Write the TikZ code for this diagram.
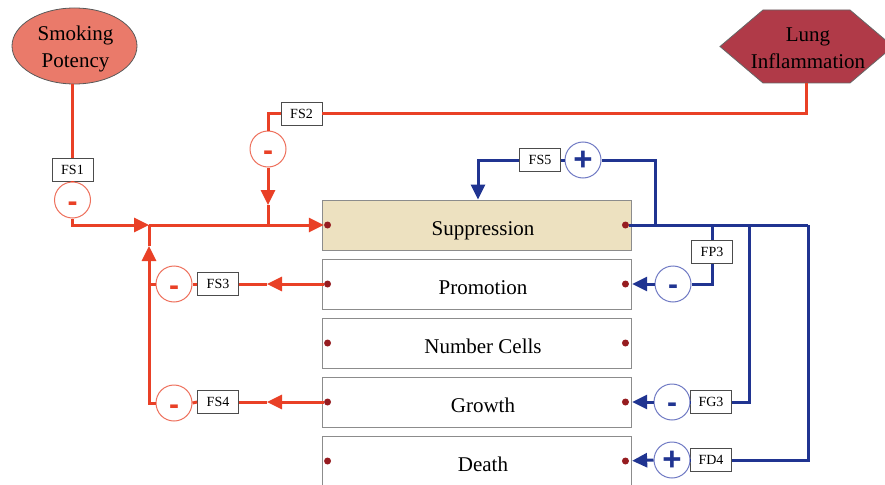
\documentclass[tikz,border=0pt]{standalone}
\usepackage{fontspec}
\setmainfont{Liberation Serif}
\newfontfamily\signfont{Liberation Sans}
\usetikzlibrary{arrows.meta,calc,shapes.geometric}

\definecolor{redline}{RGB}{233,64,38}
\definecolor{redrim}{RGB}{238,112,92}
\definecolor{blueline}{RGB}{32,52,145}
\definecolor{bluerim}{RGB}{112,122,196}
\definecolor{salmon}{RGB}{234,122,106}
\definecolor{crimson}{RGB}{176,58,72}
\definecolor{beige}{RGB}{237,225,192}
\definecolor{boxgray}{RGB}{140,140,140}
\definecolor{dotred}{RGB}{150,28,32}

\tikzset{
  flow/.style={line width=3pt},
  redflow/.style={flow, draw=redline},
  blueflow/.style={flow, draw=blueline},
  tip/.style={-{Triangle[length=15pt,width=14pt]}},
  gain/.style={draw=black!70, fill=white, line width=0.8pt, minimum width=41pt,
    minimum height=23pt, inner sep=0pt, font=\fontsize{14}{16}\selectfont},
  ring/.style={circle, fill=white, line width=1pt, minimum size=36pt, inner sep=0pt,
    text depth=0pt, font=\signfont\bfseries\fontsize{30}{30}\selectfont},
  minus/.style={text height=20.6pt},
  lowminus/.style={text height=23pt},
  plus/.style={text height=20pt, font=\signfont\bfseries\fontsize{33}{33}\selectfont},
  redring/.style={ring, lowminus, draw=redrim, text=redline},
  bluering/.style={ring, draw=bluerim, text=blueline},
  stage/.style={draw=boxgray, line width=0.9pt, minimum width=309pt, minimum height=50pt,
    inner sep=0pt, text height=20pt, text depth=0pt, font=\fontsize{21}{24}\selectfont},
  port/.style={circle, fill=dotred, minimum size=7pt, inner sep=0pt},
  source/.style={align=center, inner sep=0pt, font=\fontsize{21}{27}\selectfont}
}

\begin{document}
\begin{tikzpicture}[x=1pt,y=-1pt]
\clip (0,0) rectangle (885,484);
\fill[white] (0,0) rectangle (885,484);

% inputs
\node[ellipse, draw=black!65, line width=0.8pt, fill=salmon,
      minimum width=125pt, minimum height=76pt] (smoke) at (74.5,46) {};
\node[source] at ($(smoke)+(1,3)$) {Smoking\\Potency};
\draw[draw=black!60, fill=crimson, line width=0.8pt]
  (720,46.5) -- (763,10) -- (850,10) -- (893,46.5) -- (850,83) -- (763,83) -- cycle;
\node[minimum width=173pt, minimum height=73pt, inner sep=0pt] (lung) at (806.5,46.5) {};
\node[source] at ($(lung)+(1.5,1.5)$) {Lung\\Inflammation};

% compartments
\node[stage, fill=beige] (supp)  at (476.5,225) {\hspace*{13pt}Suppression};
\node[stage] (prom)  at (476.5,284) {\hspace*{13pt}Promotion};
\node[stage] (ncell) at (476.5,343) {\hspace*{13pt}Number Cells};
\node[stage] (grow)  at (476.5,402) {\hspace*{13pt}Growth};
\node[stage] (death) at (476.5,461) {\hspace*{13pt}Death};

\foreach \s in {supp,prom,ncell,grow,death}{
  \node[port] (\s L) at ($(\s.west)+(6,0)$) {};
  \node[port] (\s R) at ($(\s.east)+(-6,0)$) {};
}

% red feedback gains
\node[gain] (fs1) at (72.5,169.5) {FS1};
\node[redring] (c1) at (72.5,200) {-};
\node[gain] (fs2) at (301.5,114) {FS2};
\node[redring] (c2) at (268,149) {-};
\node[gain] (fs3) at (218,284) {FS3};
\node[redring] (c3) at (174,284) {-};
\node[gain] (fs4) at (218,402) {FS4};
\node[redring] (c4) at (174,403) {-};

\coordinate (j1) at (149,225);
\coordinate (a1) at (149,246);
\coordinate (a2) at (268,205);
\coordinate (j2) at (268,225);
\coordinate (a3) at (267,284);
\coordinate (a4) at (267,402);

\draw[redflow] (smoke.south -| fs1) -- (fs1.north);
\draw[redflow] (fs1.south) -- (c1.north);
\draw[redflow,tip] (c1.south) |- (j1);
\draw[redflow,tip] (j1) -- (suppL);

\draw[redflow] (lung.south) |- (fs2.east);
\draw[redflow] (fs2.west) -| (c2.north);
\draw[redflow,tip] (c2.south) -- (a2);
\draw[redflow] (a2) -- (j2);

\draw[redflow,tip] (promL) -- (a3);
\draw[redflow] (a3) -- (fs3.east);
\draw[redflow] (fs3.west) -- (c3.east);
\draw[redflow] (c3.west) -- (c3.west -| j1);

\draw[redflow,tip] (growL) -- (a4);
\draw[redflow] (a4) -- (fs4.east);
\draw[redflow] (fs4.west) -- (c4.east);
\draw[redflow,tip] (c4.west) -| (a1);
\draw[redflow] (a1) -- (j1);

% blue feedback gains
\node[gain] (fs5) at (540,160) {FS5};
\node[bluering, plus] (c5) at (583,160) {+};
\node[gain] (fp3) at (712,252) {FP3};
\node[bluering, minus] (c6) at (673,284) {-};
\node[gain] (fg3) at (711,402) {FG3};
\node[bluering, minus] (c7) at (672,402) {-};
\node[gain] (fd4) at (711,460) {FD4};
\node[bluering, plus] (c8) at (672,460) {+};

\coordinate (b0) at (655,225);
\coordinate (b1) at (712,225);
\coordinate (b2) at (749,225);
\coordinate (b3) at (808,225);

\draw[blueflow] (suppR) -- (b3);
\draw[blueflow] (b0) |- (c5.east);
\draw[blueflow] (c5.west) -- (fs5.east);
\draw[blueflow,tip] (fs5.west) -| ($(supp.north)+(1.5,0)$);

\draw[blueflow] (b1) -- (fp3.north);
\draw[blueflow] (fp3.south) |- (c6.east);
\draw[blueflow,tip,shorten >=3pt] (c6.west) -- (promR);

\draw[blueflow] (b2) |- (fg3.east);
\draw[blueflow] (fg3.west) -- (c7.east);
\draw[blueflow,tip,shorten >=3pt] (c7.west) -- (growR);

\draw[blueflow] (b3) |- (fd4.east);
\draw[blueflow] (fd4.west) -- (c8.east);
\draw[blueflow,tip,shorten >=3pt] (c8.west) -- (deathR);
\end{tikzpicture}
\end{document}
